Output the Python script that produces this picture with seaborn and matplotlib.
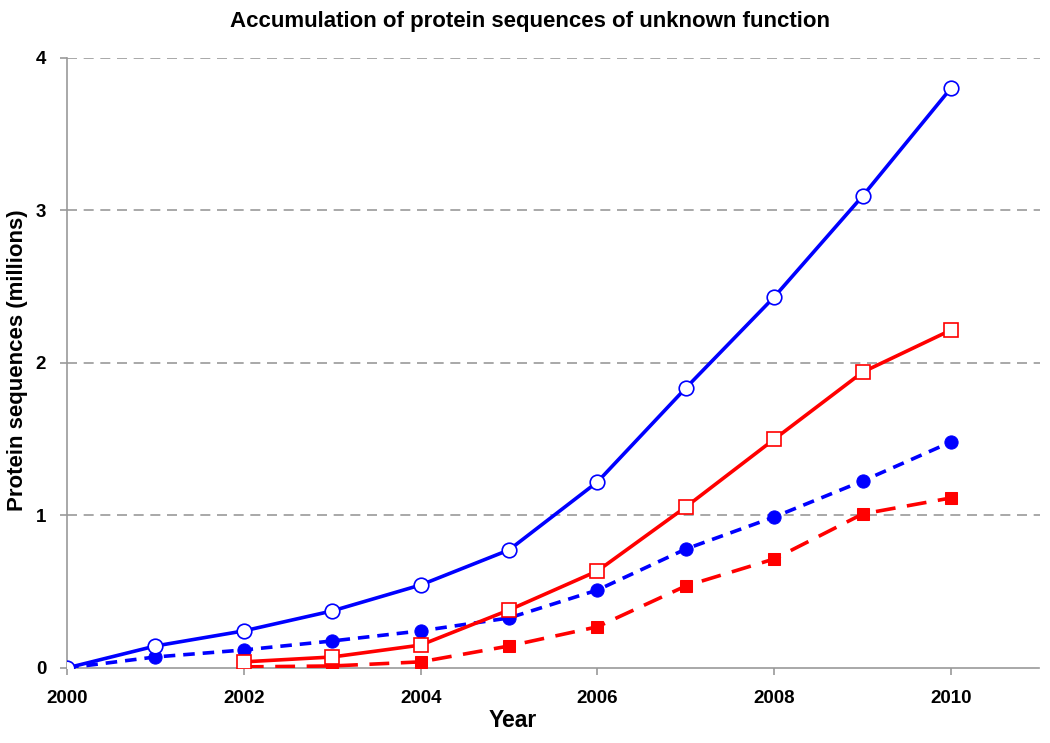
import numpy as np
import pandas as pd
import matplotlib
matplotlib.use("Agg")
import matplotlib.pyplot as plt
import seaborn as sns

years_all = [2000, 2001, 2002, 2003, 2004, 2005, 2006, 2007, 2008, 2009, 2010]
years_red = [2002, 2003, 2004, 2005, 2006, 2007, 2008, 2009, 2010]

blue_open = [0.0, 0.144, 0.243, 0.374, 0.544, 0.774, 1.22, 1.836, 2.433, 3.095, 3.803]
blue_filled = [0.0, 0.072, 0.118, 0.177, 0.243, 0.328, 0.511, 0.78, 0.99, 1.226, 1.482]
red_open = [0.04, 0.072, 0.15, 0.38, 0.636, 1.056, 1.5, 1.94, 2.216]
red_filled = [0.007, 0.013, 0.04, 0.144, 0.27, 0.538, 0.715, 1.01, 1.115]

x_ticks = [2000, 2002, 2004, 2006, 2008, 2010]
y_ticks = [0, 1, 2, 3, 4]

sns.set_style("white")
plt.rcParams['font.family'] = ['Liberation Sans', 'DejaVu Sans']
plt.rcParams['text.color'] = 'black'
plt.rcParams['axes.labelcolor'] = 'black'
plt.rcParams['xtick.color'] = 'black'
plt.rcParams['ytick.color'] = 'black'

fig = plt.figure(figsize=(10.5, 7.43), dpi=100)
ax = fig.add_axes([0.0638, 0.101, 0.9262, 0.821])

lw = 2.6
sns.lineplot(x=years_all, y=blue_filled, ax=ax, color='#0000ff', lw=lw,
             marker='o', markersize=9.5, markerfacecolor='#0000ff',
             markeredgecolor='#0000ff', zorder=3)
ax.lines[-1].set_dashes((3.2, 2.2))
sns.lineplot(x=years_red, y=red_filled, ax=ax, color='#ff0000', lw=lw,
             marker='s', markersize=9, markerfacecolor='#ff0000',
             markeredgecolor='#ff0000', zorder=3)
ax.lines[-1].set_dashes((5.5, 3.2))
sns.lineplot(x=years_red, y=red_open, ax=ax, color='#ff0000', lw=lw,
             marker='s', markersize=10, markerfacecolor='white',
             markeredgecolor='#ff0000', markeredgewidth=1.2, zorder=4)
sns.lineplot(x=years_all, y=blue_open, ax=ax, color='#0000ff', lw=lw,
             marker='o', markersize=10.5, markerfacecolor='white',
             markeredgecolor='#0000ff', markeredgewidth=1.2, zorder=5)

ax.set_xlim(2000, 2011)
ax.set_ylim(0, 4)
ax.set_xticks(x_ticks)
ax.set_yticks(y_ticks)
ax.set_xticklabels([str(v) for v in x_ticks], fontsize=13.5, fontweight='bold')
ax.set_yticklabels([str(v) for v in y_ticks], fontsize=13.5, fontweight='bold')

for y in y_ticks[1:]:
    ax.axhline(y, color='#999999', lw=1.2, ls=(0, (6, 4)), zorder=1)

for s in ['top', 'right']:
    ax.spines[s].set_visible(False)
for s in ['left', 'bottom']:
    ax.spines[s].set_color('#999999')
    ax.spines[s].set_linewidth(1.2)

ax.tick_params(axis='x', direction='out', length=5, color='#999999', width=1.2, pad=11,
               labelcolor='black')
ax.tick_params(axis='y', direction='out', length=5, color='#999999', width=1.2, pad=10,
               labelcolor='black')
ax.xaxis.set_ticks_position('bottom')
ax.yaxis.set_ticks_position('left')

ax.set_xlabel('Year', fontsize=16.5, fontweight='bold')
ax.set_ylabel('Protein sequences (millions)', fontsize=16, fontweight='bold')
# label positions in axes coordinates
ax.xaxis.set_label_coords(0.4588, -0.068)
ax.yaxis.set_label_coords(-0.040, 0.505)
fig.suptitle('Accumulation of protein sequences of unknown function', x=0.505, y=0.985,
             fontsize=16, fontweight='bold', color='black')

fig.savefig('out.png', dpi=100)
